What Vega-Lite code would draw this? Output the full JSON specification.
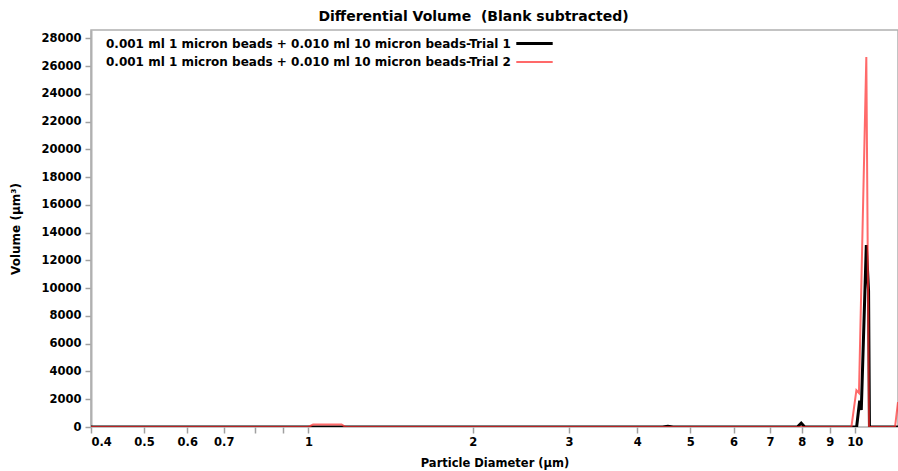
{
  "$schema": "https://vega.github.io/schema/vega-lite/v6.json",
  "width": 807,
  "height": 397,
  "autosize": {"type": "none"},
  "padding": {"left": 91, "top": 30, "right": 0, "bottom": 44},
  "background": "white",
  "title": {
    "text": "Differential Volume \u00a0(Blank subtracted)",
    "font": "DejaVu Sans",
    "fontSize": 14,
    "fontWeight": "bold",
    "color": "#000000",
    "anchor": "middle",
    "dx": -21,
    "offset": 6
  },
  "config": {
    "view": {"stroke": "#b0b0b0", "strokeWidth": 1.5},
    "axis": {
      "labelFont": "DejaVu Sans",
      "labelFontWeight": "bold",
      "labelFontSize": 11.5,
      "labelColor": "#000000",
      "titleFont": "DejaVu Sans",
      "titleFontWeight": "bold",
      "titleFontSize": 12,
      "titleColor": "#000000",
      "domainColor": "#b0b0b0",
      "domainWidth": 2,
      "tickColor": "#a0a0a0",
      "tickWidth": 1.5,
      "tickSize": 6,
      "grid": false
    }
  },
  "data": {
    "values": [
      {"d": 0.4, "v": 0, "series": "0.001 ml 1 micron beads + 0.010 ml 10 micron beads-Trial 1"},
      {"d": 4.45, "v": 0, "series": "0.001 ml 1 micron beads + 0.010 ml 10 micron beads-Trial 1"},
      {"d": 4.55, "v": 60, "series": "0.001 ml 1 micron beads + 0.010 ml 10 micron beads-Trial 1"},
      {"d": 4.65, "v": 0, "series": "0.001 ml 1 micron beads + 0.010 ml 10 micron beads-Trial 1"},
      {"d": 7.85, "v": 0, "series": "0.001 ml 1 micron beads + 0.010 ml 10 micron beads-Trial 1"},
      {"d": 7.98, "v": 280, "series": "0.001 ml 1 micron beads + 0.010 ml 10 micron beads-Trial 1"},
      {"d": 8.1, "v": 0, "series": "0.001 ml 1 micron beads + 0.010 ml 10 micron beads-Trial 1"},
      {"d": 10.08, "v": 0, "series": "0.001 ml 1 micron beads + 0.010 ml 10 micron beads-Trial 1"},
      {"d": 10.21, "v": 1900, "series": "0.001 ml 1 micron beads + 0.010 ml 10 micron beads-Trial 1"},
      {"d": 10.28, "v": 1220, "series": "0.001 ml 1 micron beads + 0.010 ml 10 micron beads-Trial 1"},
      {"d": 10.5, "v": 13100, "series": "0.001 ml 1 micron beads + 0.010 ml 10 micron beads-Trial 1"},
      {"d": 10.6, "v": 9800, "series": "0.001 ml 1 micron beads + 0.010 ml 10 micron beads-Trial 1"},
      {"d": 10.64, "v": 0, "series": "0.001 ml 1 micron beads + 0.010 ml 10 micron beads-Trial 1"},
      {"d": 12, "v": 0, "series": "0.001 ml 1 micron beads + 0.010 ml 10 micron beads-Trial 1"},
      {"d": 0.4, "v": 0, "series": "0.001 ml 1 micron beads + 0.010 ml 10 micron beads-Trial 2"},
      {"d": 1.0, "v": 0, "series": "0.001 ml 1 micron beads + 0.010 ml 10 micron beads-Trial 2"},
      {"d": 1.02, "v": 180, "series": "0.001 ml 1 micron beads + 0.010 ml 10 micron beads-Trial 2"},
      {"d": 1.15, "v": 180, "series": "0.001 ml 1 micron beads + 0.010 ml 10 micron beads-Trial 2"},
      {"d": 1.17, "v": 0, "series": "0.001 ml 1 micron beads + 0.010 ml 10 micron beads-Trial 2"},
      {"d": 9.86, "v": 0, "series": "0.001 ml 1 micron beads + 0.010 ml 10 micron beads-Trial 2"},
      {"d": 10.07, "v": 2650, "series": "0.001 ml 1 micron beads + 0.010 ml 10 micron beads-Trial 2"},
      {"d": 10.18, "v": 2450, "series": "0.001 ml 1 micron beads + 0.010 ml 10 micron beads-Trial 2"},
      {"d": 10.5, "v": 26650, "series": "0.001 ml 1 micron beads + 0.010 ml 10 micron beads-Trial 2"},
      {"d": 10.62, "v": 0, "series": "0.001 ml 1 micron beads + 0.010 ml 10 micron beads-Trial 2"},
      {"d": 11.85, "v": 0, "series": "0.001 ml 1 micron beads + 0.010 ml 10 micron beads-Trial 2"},
      {"d": 12, "v": 1800, "series": "0.001 ml 1 micron beads + 0.010 ml 10 micron beads-Trial 2"}
    ]
  },
  "mark": {"type": "line", "clip": true, "interpolate": "linear"},
  "encoding": {
    "x": {
      "field": "d",
      "type": "quantitative",
      "scale": {"type": "log", "domain": [0.4, 12], "nice": false},
      "axis": {
        "title": "Particle Diameter (µm)",
        "values": [0.4, 0.5, 0.6, 0.7, 0.8, 0.9, 1, 2, 3, 4, 5, 6, 7, 8, 9, 10],
        "labelExpr": "datum.value == 0.8 || datum.value == 0.9 ? '' : datum.value",
        "labelPadding": 3,
        "titlePadding": 10,
        "titleFontSize": 11.5,
        "domain": false,
        "labelOverlap": false
      }
    },
    "y": {
      "field": "v",
      "type": "quantitative",
      "scale": {"domain": [0, 28600], "nice": false},
      "axis": {
        "title": "Volume (µm³)",
        "values": [0, 2000, 4000, 6000, 8000, 10000, 12000, 14000, 16000, 18000, 20000, 22000, 24000, 26000, 28000],
        "format": "d",
        "labelPadding": 4,
        "titlePadding": 18
      }
    },
    "color": {
      "field": "series",
      "type": "nominal",
      "scale": {
        "domain": ["0.001 ml 1 micron beads + 0.010 ml 10 micron beads-Trial 1", "0.001 ml 1 micron beads + 0.010 ml 10 micron beads-Trial 2"],
        "range": ["#000000", "#ff3030"]
      },
      "legend": {
        "title": null,
        "orient": "none",
        "legendX": 12,
        "legendY": 5,
        "symbolType": "M-2.6,0H2.6",
        "symbolSize": 196,
        "symbolOffset": 423,
        "labelOffset": -437,
        "labelFont": "DejaVu Sans",
        "labelFontWeight": "bold",
        "labelFontSize": 12,
        "labelColor": "#000000",
        "labelLimit": 600,
        "rowPadding": 4
      }
    },
    "strokeWidth": {
      "field": "series",
      "type": "nominal",
      "scale": {
        "domain": ["0.001 ml 1 micron beads + 0.010 ml 10 micron beads-Trial 1", "0.001 ml 1 micron beads + 0.010 ml 10 micron beads-Trial 2"],
        "range": [3, 2]
      }
    },
    "opacity": {
      "field": "series",
      "type": "nominal",
      "scale": {
        "domain": ["0.001 ml 1 micron beads + 0.010 ml 10 micron beads-Trial 1", "0.001 ml 1 micron beads + 0.010 ml 10 micron beads-Trial 2"],
        "range": [1, 0.72]
      }
    }
  }
}
